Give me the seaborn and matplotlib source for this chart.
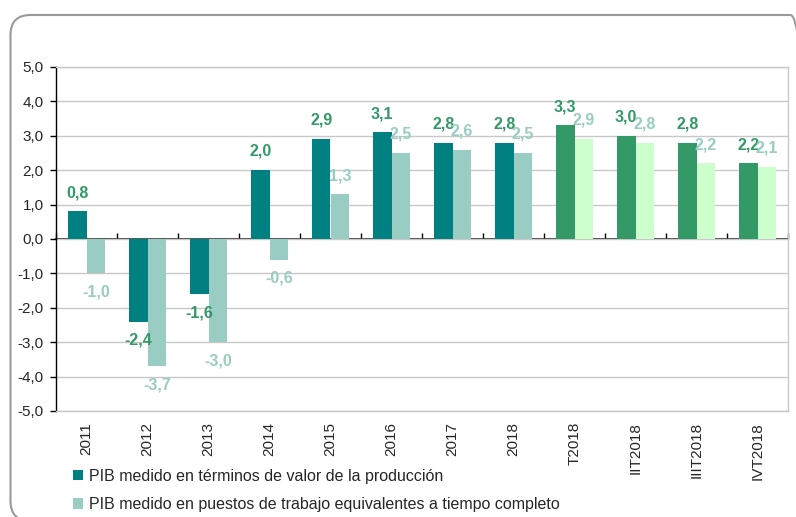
import pandas as pd
import matplotlib
matplotlib.use("Agg")
import matplotlib.pyplot as plt
import seaborn as sns
from matplotlib.patches import FancyBboxPatch, Patch
from matplotlib.transforms import IdentityTransform

categories = ["2011", "2012", "2013", "2014", "2015", "2016", "2017", "2018",
              "T2018", "IIT2018", "IIIT2018", "IVT2018"]
pib_produccion = [0.8, -2.4, -1.6, 2.0, 2.9, 3.1, 2.8, 2.8, 3.3, 3.0, 2.8, 2.2]
pib_puestos = [-1.0, -3.7, -3.0, -0.6, 1.3, 2.5, 2.6, 2.5, 2.9, 2.8, 2.2, 2.1]
series_names = ["PIB medido en términos de valor de la producción",
                "PIB medido en puestos de trabajo equivalentes a tiempo completo"]
quarters = ["T2018", "IIT2018", "IIIT2018", "IVT2018"]

# colores
annual_colors = ["#008080", "#99CCC2"]
quarter_colors = ["#339966", "#CCFFCC"]
label_colors = ["#339966", "#99CCC2"]

df = pd.DataFrame({
    "periodo": categories * 2,
    "serie": [series_names[0]] * len(categories) + [series_names[1]] * len(categories),
    "valor": pib_produccion + pib_puestos,
})

sns.set_theme(style="white")
plt.rcParams["font.family"] = ["Liberation Sans", "DejaVu Sans"]

fig = plt.figure(figsize=(7.96, 5.17), dpi=100)
ax = fig.add_axes([56 / 796, 1 - 411 / 517, (788 - 56) / 796, (411 - 67) / 517])

sns.barplot(data=df, x="periodo", y="valor", hue="serie", order=categories,
            hue_order=series_names, palette=annual_colors, width=0.61,
            saturation=1, legend=False, ax=ax)

# trimestres en verde
for i, cont in enumerate(ax.containers):
    for cat, bar in zip(categories, cont):
        bar.set_edgecolor("none")
        if cat in quarters:
            bar.set_facecolor(quarter_colors[i])

# etiquetas de datos
for i, (cont, vals) in enumerate(zip(ax.containers, [pib_produccion, pib_puestos])):
    for bar, v in zip(cont, vals):
        xc = bar.get_x() + bar.get_width() / 2
        off = 13.5 if v >= 0 else -13.5
        ax.annotate(f"{v:.1f}".replace(".", ","), (xc, v), xytext=(0, off),
                    textcoords="offset points", ha="center", va="center",
                    fontsize=11.5, fontweight="bold", color=label_colors[i])

ax.set_ylim(-5, 5)
ax.set_xlim(-0.5, len(categories) - 0.5)
ax.set_yticks(range(-5, 6))
ax.set_yticklabels([f"{t:.1f}".replace(".", ",") for t in range(-5, 6)], fontsize=11)
ax.yaxis.grid(True, color="#C8C8C8", linewidth=1)
ax.set_axisbelow(True)
ax.tick_params(axis="y", direction="out", length=4, width=1, color="black", pad=5, left=True)
ax.tick_params(axis="x", length=0, pad=8, labelsize=11)
plt.setp(ax.get_xticklabels(), rotation=90, va="top", ha="center")
ax.set_xlabel("")
ax.set_ylabel("")

for side in ["top", "right", "bottom"]:
    ax.spines[side].set_color("#C8C8C8")
    ax.spines[side].set_linewidth(1)
ax.spines["left"].set_color("black")
ax.spines["left"].set_linewidth(1)

# eje en el cero con marcas entre categorías
zero_ax = ax.secondary_xaxis(0.5)
zero_ax.set_xticks([k + 0.5 for k in range(-1, len(categories))])
zero_ax.set_xticklabels([])
zero_ax.tick_params(direction="out", length=4, width=1, color="black")
zero_ax.spines["bottom"].set_color("black")
zero_ax.spines["bottom"].set_linewidth(1.2)

handles = [Patch(facecolor=c, edgecolor="none") for c in annual_colors]
fig.legend(handles, series_names, loc="center left",
           bbox_to_anchor=(73 / 796, 1 - 490.5 / 517), frameon=False,
           fontsize=11.5, handlelength=0.62, handleheight=0.62, handletextpad=0.4,
           labelspacing=0.85, borderpad=0, borderaxespad=0)

# marco redondeado
frame = FancyBboxPatch((10.5, -4), 800, 506, boxstyle="round,pad=0,rounding_size=20",
                       transform=IdentityTransform(), facecolor="none",
                       edgecolor="#9A9A9A", linewidth=1.5)
fig.patches.append(frame)

fig.savefig("out.png", dpi=100)
plt.close(fig)
